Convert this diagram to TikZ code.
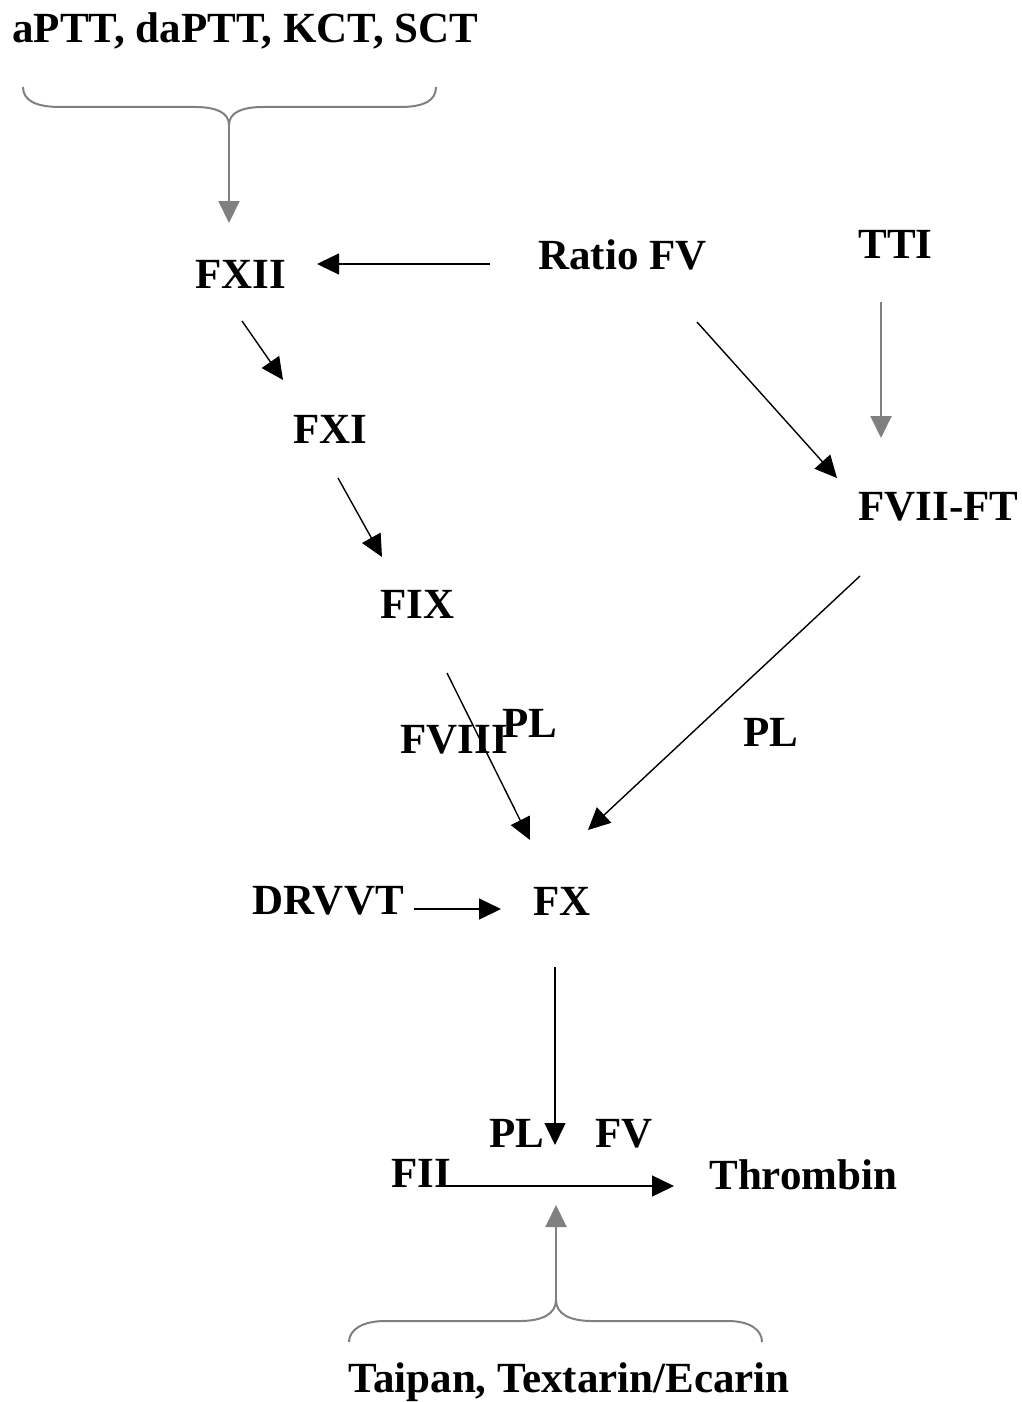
\documentclass[tikz,border=0pt]{standalone}
\usepackage{fontspec}
\setmainfont{Liberation Serif}
\usetikzlibrary{arrows.meta}
\definecolor{bracegray}{RGB}{128,128,128}

\begin{document}
\begin{tikzpicture}[x=0.5pt, y=-0.5pt]
	\tikzstyle{every node}=[anchor=base west, inner sep=0pt, font=\fontsize{21.5}{26}\selectfont\bfseries]
	\tikzstyle{blk}=[->, >={Triangle[length=11pt, width=10.5pt]}, line width=0.7pt]
	\tikzstyle{gry}=[blk, color=bracegray, line width=1pt]
	\useasboundingbox (0,0) rectangle (1022,1402);

	\node (tests)  at (12, 43)    {aPTT, daPTT, KCT, SCT};
	\node (fxii)   at (195, 288)  {FXII};
	\node (ratio)  at (538, 269)  {Ratio FV};
	\node (tti)    at (858, 258)  {TTI};
	\node (fxi)    at (293, 443)  {FXI};
	\node (fix)    at (380, 618)  {FIX};
	\node (fviift) at (858, 520)  {FVII-FT};
	\node (fviii)  at (400, 753)  {FVIII};
	\node (pl1)    at (502, 737)  {PL};
	\node (pl2)    at (743, 746)  {PL};
	\node (drvvt)  at (252, 914)  {DRVVT};
	\node (fx)     at (533, 915)  {FX};
	\node (pl3)    at (489, 1147) {PL};
	\node (fv)     at (595, 1147) {FV};
	\node (fii)    at (391, 1187) {FII};
	\node (thr)    at (709, 1189) {Thrombin};
	\node (venoms) at (348, 1392) {Taipan, Textarin/Ecarin};

	\coordinate (tests-tip)  at (229, 125);
	\coordinate (fxii-in)    at (229, 223);
	\coordinate (ratio-out)  at (490, 264);
	\coordinate (fxii-l)     at (317, 264);
	\coordinate (fxii-out)   at (242, 321);
	\coordinate (fxi-in)     at (283, 380);
	\coordinate (fxi-out)    at (338, 478);
	\coordinate (fix-in)     at (382, 557);
	\coordinate (fix-out)    at (447, 673);
	\coordinate (fx-in1)     at (530, 840);
	\coordinate (ratio-out2) at (697, 322);
	\coordinate (fviift-in1) at (837, 478);
	\coordinate (tti-out)    at (881, 302);
	\coordinate (fviift-in2) at (881, 438);
	\coordinate (fviift-out) at (860, 576);
	\coordinate (fx-in2)     at (588, 830);
	\coordinate (drvvt-out)  at (414, 909);
	\coordinate (fx-in3)     at (501, 909);
	\coordinate (fx-out)     at (555, 967);
	\coordinate (fii-act)    at (555, 1145);
	\coordinate (fii-out)    at (447, 1186);
	\coordinate (thr-in)     at (674, 1186);
	\coordinate (venoms-tip) at (556, 1300);
	\coordinate (fii-act2)   at (556, 1205);

	\draw [color=bracegray, line width=1pt] (23, 87) .. controls (23, 100) and (35, 107) .. (60, 107)
		-- (195, 107) .. controls (215, 107) and (229, 112) .. (tests-tip)
		.. controls (229, 112) and (243, 107) .. (263, 107) -- (400, 107)
		.. controls (425, 107) and (436, 100) .. (436, 87);
	\draw [color=bracegray, line width=1pt] (349, 1342) .. controls (349, 1330) and (362, 1321) .. (385, 1321)
		-- (520, 1321) .. controls (542, 1321) and (556, 1314) .. (venoms-tip)
		.. controls (556, 1314) and (570, 1321) .. (592, 1321) -- (728, 1321)
		.. controls (750, 1321) and (762, 1330) .. (762, 1342);

	\draw [gry] (tests-tip) to (fxii-in);
	\draw [blk] (ratio-out) to (fxii-l);
	\draw [blk] (fxii-out) to (fxi-in);
	\draw [blk] (fxi-out) to (fix-in);
	\draw [blk] (fix-out) to (fx-in1);
	\draw [blk] (ratio-out2) to (fviift-in1);
	\draw [gry] (tti-out) to (fviift-in2);
	\draw [blk] (fviift-out) to (fx-in2);
	\draw [blk] (drvvt-out) to (fx-in3);
	\draw [blk] (fx-out) to (fii-act);
	\draw [blk] (fii-out) to (thr-in);
	\draw [gry] (venoms-tip) to (fii-act2);
\end{tikzpicture}
\end{document}
